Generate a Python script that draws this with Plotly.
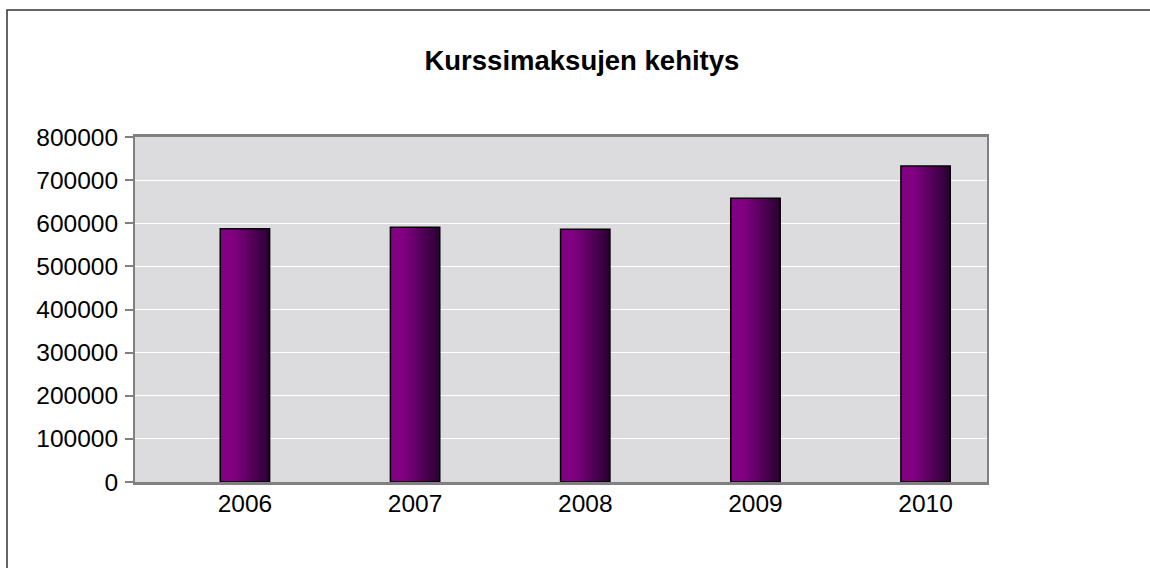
import plotly.graph_objects as go

# data
vuodet = ['2006', '2007', '2008', '2009', '2010']
kurssimaksut = [587000, 591000, 586000, 658000, 733000]
y_ticks = [0, 100000, 200000, 300000, 400000, 500000, 600000, 700000, 800000]

otsikko = 'Kurssimaksujen kehitys'

# gradient bar: left light purple -> right dark purple
bar_w = 0.29
n_strips = 24
c_left = (0x82, 0x00, 0x82)
c_right = (0x2c, 0x00, 0x34)


def strip_color(i):
    t = i / (n_strips - 1)
    # flat for the left part, then darken
    t = max(0.0, (t - 0.25) / 0.75)
    r, g, b = [int(a + (bb - a) * t) for a, bb in zip(c_left, c_right)]
    return f'rgb({r},{g},{b})'


fig = go.Figure()

sw = bar_w / n_strips
for i in range(n_strips):
    # each strip runs to the right edge, later ones drawn on top -> no seams
    fig.add_trace(go.Bar(
        x=vuodet,
        y=kurssimaksut,
        width=bar_w - i * sw,
        offset=-bar_w / 2 + i * sw,
        marker=dict(color=strip_color(i), line=dict(width=0)),
        hoverinfo='skip',
        showlegend=False,
    ))

# outline
fig.add_trace(go.Bar(
    x=vuodet,
    y=kurssimaksut,
    width=bar_w,
    offset=-bar_w / 2,
    marker=dict(color='rgba(0,0,0,0)', line=dict(color='#000000', width=1.5)),
    showlegend=False,
    hovertemplate='%{x}: %{y}<extra></extra>',
))

fig.update_layout(
    width=1150,
    height=568,
    barmode='overlay',
    paper_bgcolor='white',
    plot_bgcolor='#dcdcdf',
    margin=dict(l=135, r=163, t=137, b=86),
    font=dict(family='Liberation Sans, Arial, sans-serif', color='black'),
    title=dict(
        text='<b>' + otsikko + '</b>',
        font=dict(size=27.5, color='black'),
        x=0.506, xref='container', xanchor='center',
        y=1 - 60 / 568, yref='container', yanchor='middle',
    ),
    xaxis=dict(
        type='category',
        range=[-0.646, 4.361],  # categories sit a bit right of centre in the original
        showgrid=False,
        showline=True, linecolor='#808080', linewidth=3, mirror=True,
        ticks='', tickfont=dict(size=24.5),
        ticklabelstandoff=-2,
    ),
    yaxis=dict(
        range=[0, 800000],
        tickvals=y_ticks,
        tickformat='d',
        showgrid=True, gridcolor='white', gridwidth=1,
        zeroline=False,
        showline=True, linecolor='#808080', linewidth=2, mirror=True,
        ticks='outside', ticklen=8, tickcolor='#808080', tickwidth=1.5,
        tickfont=dict(size=24.5),
        ticklabelstandoff=2,
    ),
    shapes=[
        dict(
            type='rect', xref='paper', yref='paper',
            x0=(7 - 135) / 852, x1=(1160 - 135) / 852,
            y0=(482 - 580) / 345, y1=(482 - 10) / 345,
            line=dict(color='#333333', width=1.5),
            fillcolor='rgba(0,0,0,0)',
            layer='below',
        )
    ],
)

# remove the default page margin so the figure sits at the window corner
fig.write_html(
    'out.html',
    config={'displayModeBar': False},
    post_script="document.body.style.margin='0';document.body.style.overflow='hidden';",
)
